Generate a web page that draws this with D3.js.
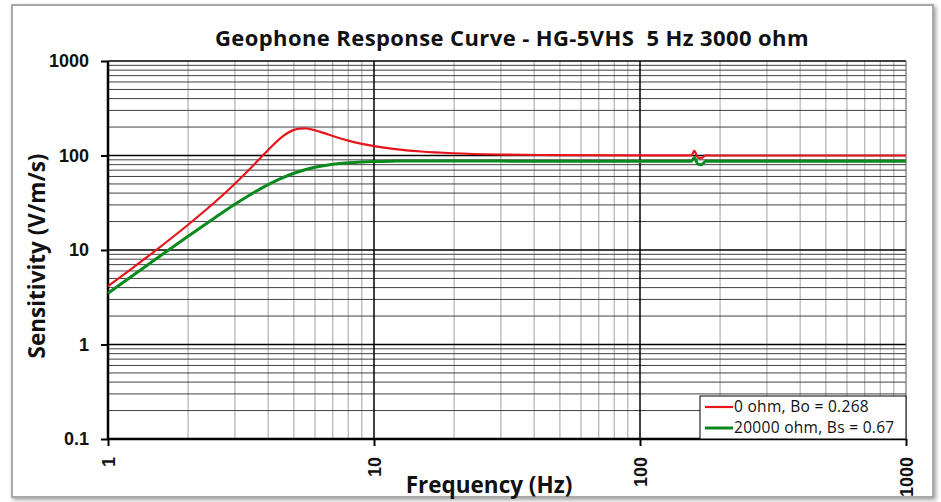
<!DOCTYPE html>
<html>
<head>
<meta charset="utf-8">
<script src="https://cdn.jsdelivr.net/npm/d3@7"></script>
<style>
  body { margin: 0; background: #fff; }
  .tick text { font-family: "Liberation Sans", Arial, sans-serif; }
  .label { font-family: "Open Sans", sans-serif; white-space: pre; }
</style>
</head>
<body>
<script>
// values
var freq0 = [1, 1.25, 1.5, 2, 2.5, 3, 3.5, 4, 4.5, 4.75, 5, 5.25, 5.5, 6, 6.5, 7, 8, 9, 10, 12, 15, 20, 30, 50, 100, 150, 156, 160, 165, 170, 177, 200, 500, 1000];
var sens0 = [4.14, 6.6, 9.74, 18.5, 31.4, 50.3, 77.4, 114.3, 156.2, 174, 186.6, 192.7, 193.3, 184.8, 172.3, 160.9, 143.8, 132.8, 125.6, 116.8, 110.3, 105.6, 102.4, 100.9, 100.2, 100.1, 100.1, 112, 95, 94, 100.1, 100, 100, 100];
var freqS = [1, 1.5, 2, 2.5, 3, 3.5, 4, 4.5, 5, 5.5, 6, 7, 8, 9, 10, 12, 15, 20, 30, 50, 100, 150, 156, 160, 165, 170, 177, 200, 500, 1000];
var sensS = [3.49, 7.87, 13.97, 21.6, 30.5, 39.9, 49.2, 57.7, 64.9, 70.7, 75.1, 80.9, 84.0, 85.6, 86.5, 87.2, 87.5, 87.4, 87.2, 87.1, 87.0, 87.0, 87.0, 95, 81, 80, 87.0, 87.0, 87.0, 87.0];
var seriesNames = ["0 ohm, Bo = 0.268", "20000 ohm, Bs = 0.67"];
var seriesColors = ["#e8141c", "#0a8a1e"];
var xTicks = [1, 10, 100, 1000];
var yTicks = [0.1, 1, 10, 100, 1000];

var svgWidth = 941, svgHeight = 502;
var margin = {top: 61, left: 108, bottom: 63, right: 35};
var width = svgWidth - margin.left - margin.right,
    height = svgHeight - margin.top - margin.bottom;

var svg = d3.select('body').append('svg')
  .attr('width', svgWidth)
  .attr('height', svgHeight);

var defs = svg.append('defs');
var f = defs.append('filter').attr('id', 'shadow').attr('x', '-5%').attr('y', '-5%').attr('width', '110%').attr('height', '110%');
f.append('feDropShadow').attr('dx', 2).attr('dy', 2).attr('stdDeviation', 2).attr('flood-color', '#777').attr('flood-opacity', 0.7);

// chart frame
svg.append('rect')
  .attr('x', 12).attr('y', 5)
  .attr('width', 921).attr('height', 492)
  .attr('fill', '#fff')
  .attr('stroke', '#a8a8a8')
  .attr('stroke-width', 2)
  .attr('filter', 'url(#shadow)');

var g = svg.append('g')
  .attr('transform', `translate(${margin.left},${margin.top})`);

var xScale = d3.scaleLog().domain([1, 1000]).range([0, width]);
var yScale = d3.scaleLog().domain([0.1, 1000]).range([height, 0]);

// minor grid
var minorX = [], minorY = [];
[1, 10, 100].forEach(function(d) { for (var k = 2; k <= 9; k++) minorX.push(d * k); });
[0.1, 1, 10, 100].forEach(function(d) { for (var k = 2; k <= 9; k++) minorY.push(d * k); });

g.selectAll('.vminor').data(minorX).enter().append('line')
  .attr('x1', d => xScale(d)).attr('x2', d => xScale(d))
  .attr('y1', 0).attr('y2', height)
  .attr('stroke', '#a0a0a0').attr('stroke-width', 1);

g.selectAll('.hminor').data(minorY).enter().append('line')
  .attr('y1', d => yScale(d)).attr('y2', d => yScale(d))
  .attr('x1', 0).attr('x2', width)
  .attr('stroke', '#404040').attr('stroke-width', 1);

g.selectAll('.vmajor').data(xTicks.slice(1, 3)).enter().append('line')
  .attr('x1', d => xScale(d)).attr('x2', d => xScale(d))
  .attr('y1', 0).attr('y2', height)
  .attr('stroke', '#000').attr('stroke-width', 1.5);

g.selectAll('.hmajor').data(yTicks.slice(1)).enter().append('line')
  .attr('y1', d => yScale(d)).attr('y2', d => yScale(d))
  .attr('x1', 0).attr('x2', width)
  .attr('stroke', '#000').attr('stroke-width', 1.5);

g.append('line')
  .attr('x1', width).attr('x2', width).attr('y1', 0).attr('y2', height)
  .attr('stroke', '#555').attr('stroke-width', 1);

// axes
var yAxis = d3.axisLeft(yScale).tickValues(yTicks).tickSize(7).tickPadding(12)
  .tickFormat(d => d < 1 ? '0.1' : d3.format('d')(d));
var xAxis = d3.axisBottom(xScale).tickValues(xTicks).tickSize(7).tickFormat(d3.format('d'));

var ya = g.append('g').call(yAxis);
ya.select('.domain').attr('stroke-width', 2.5).attr('d', `M0,0V${height}`);
ya.selectAll('.tick line').attr('stroke-width', 2);
ya.selectAll('.tick text').attr('font-size', 18).attr('font-weight', 'bold').attr('fill', '#111');

var xa = g.append('g').attr('transform', `translate(0,${height})`).call(xAxis);
xa.select('.domain').attr('stroke-width', 2.5).attr('d', `M0,0H${width}`);
xa.selectAll('.tick line').attr('stroke-width', 2);
xa.selectAll('.tick text')
  .attr('font-size', 18).attr('font-weight', 'bold').attr('fill', '#111')
  .attr('text-anchor', 'end')
  .attr('dy', '0.35em')
  .attr('transform', 'translate(0,3) rotate(-90)')
  .attr('x', -15).attr('y', 0);

// curves
var line = d3.line()
  .x(d => xScale(d[0]))
  .y(d => yScale(d[1]))
  .curve(d3.curveMonotoneX);

var curves = [d3.zip(freq0, sens0), d3.zip(freqS, sensS)];
g.selectAll('.curve').data(curves).enter().append('path')
  .attr('d', line)
  .attr('fill', 'none')
  .attr('stroke', (d, i) => seriesColors[i])
  .attr('stroke-width', (d, i) => i == 0 ? 2.2 : 3);

// legend
var legend = g.append('g').attr('transform', `translate(${width - 206},${height - 43})`);
legend.append('rect').attr('width', 206).attr('height', 43)
  .attr('fill', '#fff').attr('stroke', '#000').attr('stroke-width', 1);
seriesNames.forEach(function(name, i) {
  var yy = 11 + i * 21;
  legend.append('line').attr('x1', 5).attr('x2', 33).attr('y1', yy).attr('y2', yy)
    .attr('stroke', seriesColors[i]).attr('stroke-width', i == 0 ? 2.2 : 3);
  legend.append('text').attr('class', 'label').attr('x', 34).attr('y', yy).attr('dy', '0.35em')
    .attr('font-size', 15.5).attr('letter-spacing', 0.3).attr('fill', '#111')
    .text(name);
});

// titles
svg.append('text').attr('class', 'label')
  .attr('x', 512).attr('y', 46)
  .attr('text-anchor', 'middle')
  .attr('font-weight', 'bold').attr('font-size', 22).attr('letter-spacing', 0.4).attr('fill', '#111')
  .text('Geophone Response Curve - HG-5VHS  5 Hz 3000 ohm');

svg.append('text').attr('class', 'label')
  .attr('x', 489).attr('y', 493)
  .attr('text-anchor', 'middle')
  .attr('font-weight', 'bold').attr('font-size', 22.5).attr('fill', '#111')
  .text('Frequency (Hz)');

svg.append('text').attr('class', 'label')
  .attr('transform', 'translate(45,256) rotate(-90)')
  .attr('text-anchor', 'middle')
  .attr('font-weight', 'bold').attr('font-size', 22.5).attr('fill', '#111')
  .text('Sensitivity (V/m/s)');
</script>
</body>
</html>
